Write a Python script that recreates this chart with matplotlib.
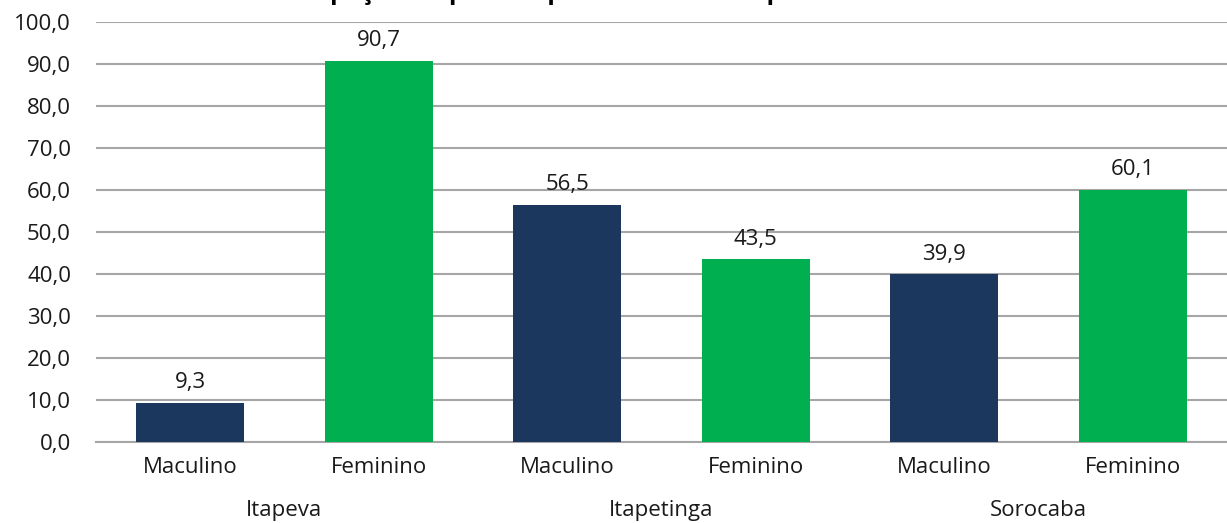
import matplotlib.pyplot as plt
import numpy as np

plt.rcParams['font.family'] = ['Open Sans', 'DejaVu Sans']

# dados
municipios = ['Itapeva', 'Itapetinga', 'Sorocaba']
sexos = ['Maculino', 'Feminino']
valores = [9.3, 90.7, 56.5, 43.5, 39.9, 60.1]
cores = ['#1C375E', '#00B050']
y_ticks = [0, 10, 20, 30, 40, 50, 60, 70, 80, 90, 100]

fig = plt.figure(figsize=(12.27, 5.23), dpi=100)
ax = fig.add_axes([96 / 1227, 81 / 523, 1 - 96 / 1227, (442 - 22) / 523])

x = np.arange(len(valores))
bar_colors = [cores[i % 2] for i in range(len(valores))]
bars = ax.bar(x, valores, width=0.573, color=bar_colors, zorder=3)

# rótulos de dados
for b, v in zip(bars, valores):
    ax.annotate(f'{v:.1f}'.replace('.', ','), (b.get_x() + b.get_width() / 2, v),
                xytext=(0, 7), textcoords='offset points',
                ha='center', va='bottom', fontsize=16, color='#1a1a1a')

ax.set_xlim(-0.5, len(valores) - 0.5)
ax.set_ylim(0, 100)
ax.set_yticks(y_ticks)
ax.set_yticklabels([f'{t:.1f}'.replace('.', ',') for t in y_ticks], fontsize=16, color='#1a1a1a')
ax.yaxis.grid(True, color='#A6A6A6', linewidth=1.5, zorder=0)
ax.tick_params(axis='y', length=0, pad=18)

ax.set_xticks(x)
ax.set_xticklabels([sexos[i % 2] for i in range(len(valores))], fontsize=16, color='#1a1a1a')
ax.tick_params(axis='x', length=0, pad=11)

for s in ['top', 'right', 'left']:
    ax.spines[s].set_visible(False)
ax.spines['bottom'].set_color('#A6A6A6')
ax.spines['bottom'].set_linewidth(1.5)

# nomes dos municípios
for i, m in enumerate(municipios):
    ax.text(2 * i + 0.5, -0.162, m, transform=ax.get_xaxis_transform(),
            ha='center', va='center', fontsize=16, color='#1a1a1a')

# título (cortado no topo da imagem, só aparecem as descendentes)
fig.text(0.43, 1.002, 'Participação do público por sexo e município',
         ha='center', va='baseline', fontsize=18, fontweight='bold')

fig.savefig('out.png', dpi=100)
